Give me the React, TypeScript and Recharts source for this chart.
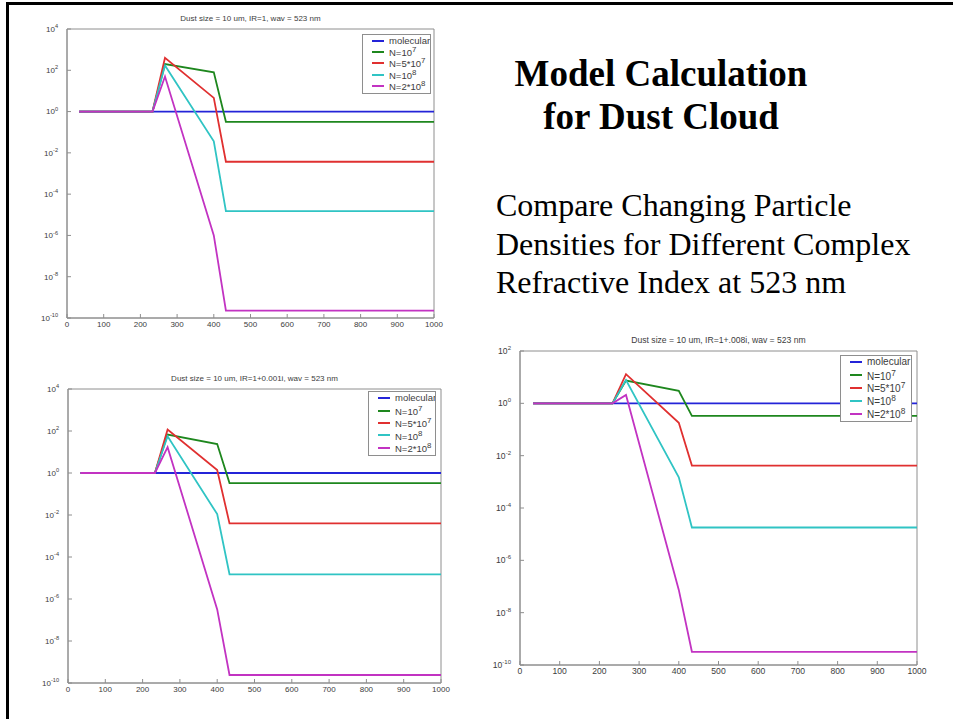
import React from "react";
import { LineChart, Line, XAxis, YAxis, Legend, ReferenceArea } from "recharts";

// altitude grid shared by all three runs
const altitudes = [33, 233, 267, 400, 433, 1000];
const xTicks = [0, 100, 200, 300, 400, 500, 600, 700, 800, 900, 1000];
const yTicksTall = [1e-10, 1e-8, 1e-6, 1e-4, 1e-2, 1, 1e2, 1e4];
const yTicksShort = [1e-10, 1e-8, 1e-6, 1e-4, 1e-2, 1, 1e2];

const molecular = [1, 1, 1, 1, 1, 1];

// IR = 1
const realN1e7 = [1, 1, 200, 80, 0.32, 0.32];
const realN5e7 = [1, 1, 400, 4.6, 0.0037, 0.0037];
const realN1e8 = [1, 1, 170, 0.036, 1.5e-5, 1.5e-5];
const realN2e8 = [1, 1, 50, 1e-6, 2.3e-10, 2.3e-10];

// IR = 1 + 0.001i
const weakN1e7 = [1, 1, 68, 24, 0.33, 0.33];
const weakN5e7 = [1, 1, 117, 1.4, 0.004, 0.004];
const weakN1e8 = [1, 1, 56, 0.011, 1.5e-5, 1.5e-5];
const weakN2e8 = [1, 1, 17, 3.2e-7, 2.4e-10, 2.4e-10];

// IR = 1 + .008i
const strongN1e7 = [1, 1, 7.4, 3, 0.33, 0.33];
const strongN5e7 = [1, 1, 13, 0.18, 0.0042, 0.0042];
const strongN1e8 = [1, 1, 7.8, 0.0015, 1.8e-5, 1.8e-5];
const strongN2e8 = [1, 1, 2.1, 7.4e-8, 3.2e-10, 3.2e-10];

const series = [
  { key: "molecular", color: "#2424d8", label: <>molecular</> },
  { key: "n1e7", color: "#1e871e", label: <>N=10<sup>7</sup></> },
  { key: "n5e7", color: "#e03030", label: <>N=5*10<sup>7</sup></> },
  { key: "n1e8", color: "#30c4c4", label: <>N=10<sup>8</sup></> },
  { key: "n2e8", color: "#c233c2", label: <>N=2*10<sup>8</sup></> },
];

function buildRows(cols: number[][]) {
  return altitudes.map((alt, i) => {
    const row: Record<string, number> = { alt };
    series.forEach((s, j) => (row[s.key] = cols[j][i]));
    return row;
  });
}

const AXIS = "#8e8e8e";
const TEXT = "#3c3c3c";
const SANS = "Arial, 'Liberation Sans', Helvetica, sans-serif";

function PowerTick(props: any) {
  const { x, y, payload, fs } = props;
  const exp = Math.round(Math.log10(payload.value));
  return (
    <text x={x} y={y + fs * 0.35} textAnchor="end" fontSize={fs} fill={TEXT} fontFamily={SANS}>
      <tspan>10</tspan>
      <tspan dy={-fs * 0.45} fontSize={fs * 0.7}>{exp}</tspan>
    </text>
  );
}

type PanelProps = {
  title: string;
  plot: { x: number; y: number; w: number; h: number };
  yTicks: number[];
  cols: number[][];
  fs: number;
  legendFs: number;
  legendBox: { right: number; top: number; w: number; h: number };
};

function DustPanel({ title, plot, yTicks, cols, fs, legendFs, legendBox }: PanelProps) {
  const m = { top: 32, right: 12, bottom: 4, left: 10 };
  const width = plot.w + 60 + m.right;
  const height = plot.h + m.top + 24;
  const data = buildRows(cols);
  const yDomain = [yTicks[0], yTicks[yTicks.length - 1]];

  const legendContent = () => (
    <div
      style={{
        width: legendBox.w,
        height: legendBox.h,
        boxSizing: "border-box",
        border: `1px solid ${AXIS}`,
        background: "#fff",
        display: "flex",
        flexDirection: "column",
        justifyContent: "space-around",
        padding: "0 0 1px 0",
        fontFamily: SANS,
        fontSize: legendFs,
        color: TEXT,
        overflow: "hidden",
      }}
    >
      {series.map((s) => (
        <div key={s.key} style={{ display: "flex", alignItems: "center", height: legendFs + 2, lineHeight: 1 }}>
          <span style={{ display: "inline-block", width: 12, height: 2, marginLeft: 9, marginRight: 5, background: s.color, flexShrink: 0 }} />
          <span style={{ whiteSpace: "nowrap" }}>{s.label}</span>
        </div>
      ))}
    </div>
  );

  return (
    <div style={{ position: "absolute", left: plot.x - 60, top: plot.y - m.top, width, height }}>
      <div
        style={{
          position: "absolute",
          left: 60,
          width: plot.w,
          top: m.top - 10 - fs * 0.55,
          textAlign: "center",
          fontFamily: SANS,
          fontSize: fs,
          lineHeight: 1.1,
          color: TEXT,
          whiteSpace: "nowrap",
        }}
      >
        {title}
      </div>
      <LineChart width={width} height={height} data={data} margin={m}>
        <XAxis
          dataKey="alt"
          type="number"
          domain={[0, 1000]}
          ticks={xTicks}
          interval={0}
          height={20}
          stroke={AXIS}
          axisLine={{ stroke: AXIS }}
          tickSize={-4}
          tickMargin={7}
          tick={{ fontSize: fs, fill: TEXT, fontFamily: SANS }}
        />
        <XAxis
          xAxisId="top"
          orientation="top"
          dataKey="alt"
          type="number"
          domain={[0, 1000]}
          ticks={xTicks}
          height={0}
          stroke={AXIS}
          tickSize={-4}
          tick={false}
        />
        <YAxis
          type="number"
          scale="log"
          domain={yDomain}
          ticks={yTicks}
          interval={0}
          allowDataOverflow
          width={50}
          stroke={AXIS}
          axisLine={{ stroke: AXIS }}
          tickSize={-4}
          tickMargin={13}
          tick={(p: any) => <PowerTick {...p} fs={fs} />}
        />
        <YAxis
          yAxisId="right"
          orientation="right"
          type="number"
          scale="log"
          domain={yDomain}
          ticks={yTicks}
          allowDataOverflow
          width={0}
          stroke={AXIS}
          tickSize={-4}
          tick={false}
        />
        {/* plot frame */}
        <ReferenceArea x1={0} x2={1000} y1={yDomain[0]} y2={yDomain[1]} fill="none" stroke={AXIS} strokeWidth={1} />
        <Legend
          layout="horizontal"
          verticalAlign="middle"
          align="center"
          content={legendContent}
          wrapperStyle={{ top: m.top + legendBox.top, right: m.right + legendBox.right, left: "auto", width: "auto" }}
        />
        {series.map((s) => (
          <Line
            key={s.key}
            dataKey={s.key}
            type="linear"
            stroke={s.color}
            strokeWidth={1.8}
            dot={false}
            activeDot={false}
            isAnimationActive={false}
          />
        ))}
      </LineChart>
    </div>
  );
}

export default function App() {
  return (
    <div
      style={{
        position: "absolute",
        left: 0,
        top: 0,
        width: 953,
        height: 719,
        background: "#fff",
        overflow: "hidden",
        fontFamily: "'Liberation Serif', 'Times New Roman', serif",
      }}
    >
      <div style={{ position: "absolute", left: 6, top: 2, width: 947, height: 717, borderTop: "3px solid #000", borderLeft: "3px solid #000" }} />

      <DustPanel
        title="Dust size = 10 um, IR=1, wav = 523 nm"
        plot={{ x: 67, y: 29, w: 367, h: 289 }}
        yTicks={yTicksTall}
        cols={[molecular, realN1e7, realN5e7, realN1e8, realN2e8]}
        fs={8}
        legendFs={9.5}
        legendBox={{ right: 3, top: 5, w: 69, h: 60 }}
      />
      <DustPanel
        title="Dust size = 10 um, IR=1+0.001i, wav = 523 nm"
        plot={{ x: 68, y: 389, w: 373, h: 294 }}
        yTicks={yTicksTall}
        cols={[molecular, weakN1e7, weakN5e7, weakN1e8, weakN2e8]}
        fs={8}
        legendFs={9.5}
        legendBox={{ right: 5, top: 2, w: 68, h: 65 }}
      />
      <DustPanel
        title="Dust size = 10 um, IR=1+.008i, wav = 523 nm"
        plot={{ x: 520, y: 351, w: 397, h: 314 }}
        yTicks={yTicksShort}
        cols={[molecular, strongN1e7, strongN5e7, strongN1e8, strongN2e8]}
        fs={8.6}
        legendFs={10}
        legendBox={{ right: 5, top: 4, w: 72, h: 67 }}
      />

      <div style={{ position: "absolute", left: 480, width: 362, top: 55, textAlign: "center", fontWeight: "bold", fontSize: 37, lineHeight: "37px", color: "#000" }}>
        <div>Model Calculation</div>
        <div style={{ marginTop: 6 }}>for Dust Cloud</div>
      </div>
      <div style={{ position: "absolute", left: 496, top: 186, fontSize: 32, lineHeight: "38.5px", color: "#000", whiteSpace: "nowrap" }}>
        <div>Compare Changing Particle</div>
        <div>Densities for Different Complex</div>
        <div>Refractive Index at 523 nm</div>
      </div>
    </div>
  );
}
